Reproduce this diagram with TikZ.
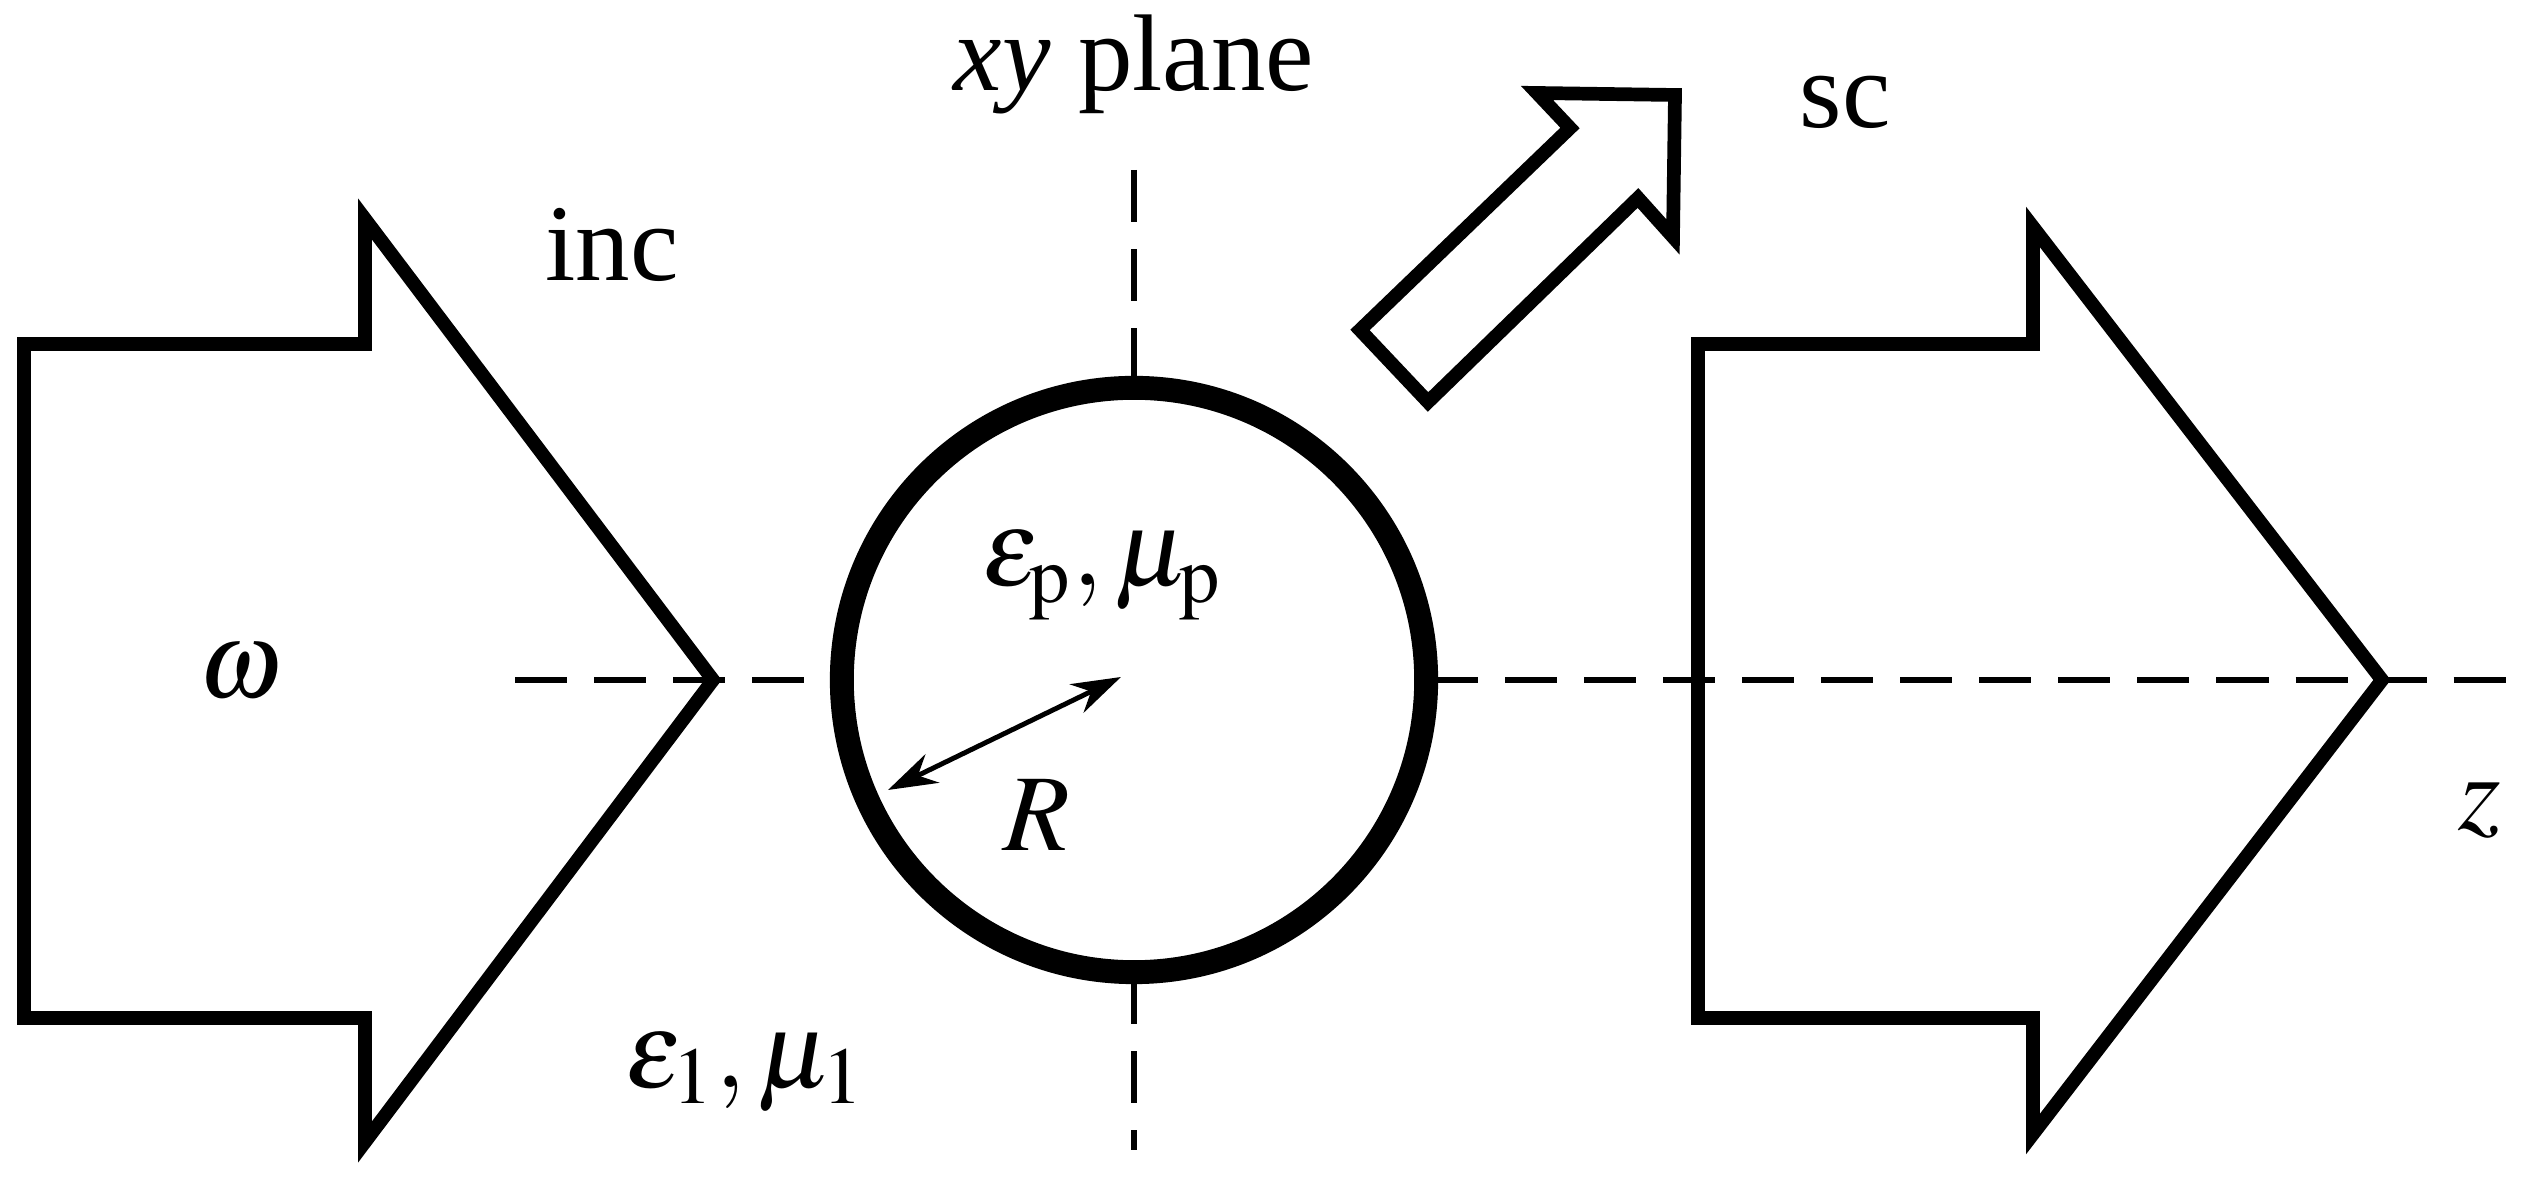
\documentclass[tikz,border=0pt]{standalone}
\usepackage{mathptmx}
\usepackage{fontspec}
\setmainfont{Liberation Serif}
\usetikzlibrary{arrows.meta}
\begin{document}
\begin{tikzpicture}[x=0.01cm,y=-0.01cm,
  outline/.style={line width=3.9pt, miter limit=20},
  axis/.style={line width=1.6pt, dash pattern=on 0.52cm off 0.27cm},
  lbl/.style={font=\fontsize{31}{35}\selectfont, inner sep=0pt}]
\useasboundingbox (0,0) rectangle (2541,1189);
% axes
\draw[axis] (515,680) -- (842,680);
\draw[axis] (1426,680) -- (2520,680);
\draw[axis] (1134,170) -- (1134,388);
\draw[axis] (1134,972) -- (1134,1150);
% incident arrow
\draw[outline] (24,344) -- (365,344) -- (365,219) -- (713,680) -- (365,1142) -- (365,1018) -- (24,1018) -- cycle;
% scattered arrow
\draw[outline] (1698,344) -- (2033,344) -- (2033,227) -- (2382,680) -- (2033,1134) -- (2033,1018) -- (1698,1018) -- cycle;
% small arrow
\draw[outline] (1360,330) -- (1428,402) -- (1638,198) -- (1673,237) -- (1675,95) -- (1537,93) -- (1570,128) -- cycle;
% particle
\node[circle, draw, line width=6.8pt, minimum size=5.84cm, inner sep=0pt] (p) at (1134,680) {};
\coordinate (rin) at (888,790);
\coordinate (rc) at (1121,677);
\draw[{Stealth[length=14pt,width=9pt]}-{Stealth[length=14pt,width=9pt]}, line width=1.4pt] (rin) -- (rc);
% labels
\node[lbl] (xy) at (1134,64) {\textit{xy} plane};
\node[lbl] (sc) at (1845,102) {sc};
\node[lbl] (inc) at (612,245) {inc};
\node[lbl] (om) at (240,672) {$\omega$};
\node[lbl] (ep) at (1102,575) {$\varepsilon_{\mathrm{p}},\mu_{\mathrm{p}}$};
\node[lbl] (R) at (1037,815) {$R$};
\node[lbl] (e1) at (745,1072) {$\varepsilon_{\mathrm{1}},\mu_{\mathrm{1}}$};
\node[lbl] (z) at (2480,810) {$z$};
\end{tikzpicture}
\end{document}
